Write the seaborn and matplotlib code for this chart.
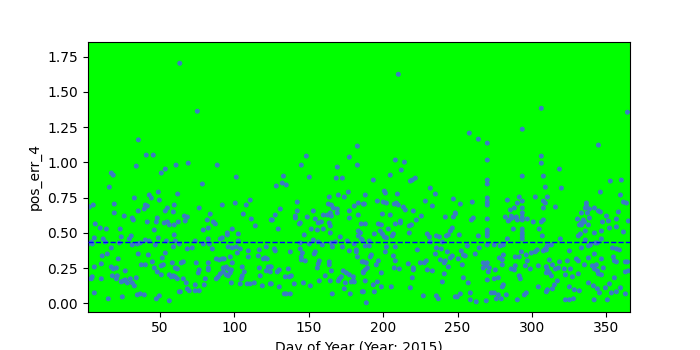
import matplotlib
matplotlib.use("Agg")
import matplotlib.pyplot as plt
import seaborn as sns
import pandas as pd

# Day of year for each sample
day_of_year = [
    1.5, 1.5, 1.5, 1.5,
    63.3, 35.5, 40.8, 45.5, 34.1, 60.8, 17.3, 18.6, 50.9, 53.6, 16.0, 48.9, 42.8, 44.2, 61.9, 32.8,
    49.6, 19.3, 5.2, 2.5, 40.2, 41.5, 59.6, 39.5, 35.4, 55.0, 53.6, 59.0, 19.3, 26.0, 31.4, 32.1,
    48.2, 47.6, 41.5, 52.9, 55.0, 56.3, 59.6, 62.3, 6.5, 9.9, 14.0, 23.3, 46.2, 59.6, 30.7, 29.4,
    5.9, 11.9, 24.0, 40.2, 42.8, 48.9, 54.3, 3.9, 4.5, 13.3, 22.7, 31.4, 34.8, 36.8, 60.3, 59.0,
    17.3, 46.9, 35.4, 42.2, 14.6, 11.2, 53.6, 22.0, 51.6, 5.9, 10.6, 17.3, 18.6, 20.7, 37.5, 40.2,
    44.9, 46.2, 50.9, 52.3, 58.3, 60.3, 61.7, 26.7, 48.2, 18.0, 21.3, 20.7, 4.5, 3.9, 10.6, 30.1,
    34.1, 24.0, 25.4, 26.7, 28.1, 31.4, 32.8, 50.9, 56.3, 57.6, 59.0, 60.3, 61.7, 5.9, 15.3, 24.7,
    34.8, 36.8, 39.5, 47.6, 49.6, 56.3, 63.0,
    75.1, 69.0, 88.5, 101.3, 78.5, 76.4, 91.9, 100.6, 108.0, 110.7, 83.8, 106.0, 66.4, 68.4, 67.0,
    81.8, 85.9, 87.2, 111.4, 114.1, 124.8, 82.5, 79.1, 98.6, 95.3, 95.3, 102.7, 91.9, 73.7, 82.5,
    90.6, 102.7, 63.0, 79.1, 83.2, 68.4, 71.7, 85.2, 95.9, 98.6, 101.3, 104.0, 102.0, 109.4, 116.8,
    121.5, 109.4, 116.1, 119.5, 120.8, 122.1, 97.3, 87.9, 89.9, 91.9, 93.2, 98.6, 74.4, 82.5, 65.7,
    64.3, 82.5, 82.5, 92.6, 94.6, 95.9, 98.0, 105.3, 106.7, 116.8, 121.5, 122.8, 124.2, 76.4, 75.8,
    92.6, 90.6, 94.6, 95.9, 97.3, 105.3, 104.7, 117.4, 65.7, 80.5, 87.9, 89.2, 67.7, 98.0, 104.0,
    108.7, 110.7, 113.4, 79.8, 73.7, 118.8, 124.2, 68.4, 69.7, 73.7, 76.4, 63.7,
    182.7, 148.4, 177.3, 145.0, 182.7, 169.2, 133.0, 150.4, 168.5, 172.6, 128.2, 132.2, 134.9,
    176.6, 163.8, 169.9, 173.9, 142.3, 163.2, 165.2, 183.3, 180.6, 186.7, 130.9, 127.5, 125.5,
    166.5, 169.2, 169.2, 177.3, 142.3, 141.0, 141.0, 153.1, 149.0, 159.8, 162.5, 164.5, 165.2,
    177.3, 183.3, 154.4, 156.4, 158.5, 144.3, 143.7, 163.8, 164.5, 185.3, 129.5, 151.7, 155.8,
    159.8, 164.5, 183.3, 184.7, 147.0, 183.3, 153.1, 156.4, 144.3, 150.4, 159.1, 165.2, 167.9,
    171.2, 175.9, 180.6, 185.3, 165.9, 172.6, 126.9, 127.5, 137.6, 144.3, 145.7, 153.7, 154.4,
    177.3, 182.0, 182.0, 182.7, 145.0, 145.0, 147.7, 157.1, 156.4, 163.8, 163.8, 186.0, 155.8,
    124.8, 124.2, 128.9, 130.2, 136.3, 165.2, 173.2, 175.3, 177.3, 180.0, 186.7, 134.3, 137.0,
    138.3, 161.1, 171.9, 170.6, 169.9, 164.5, 157.1, 180.0, 124.8, 140.3, 146.4, 151.1, 130.2,
    174.6, 178.6, 180.6, 173.9, 186.0, 133.6, 134.9, 137.6, 165.8, 177.9,
    210.2, 208.2, 214.3, 212.2, 204.8, 221.6, 219.6, 218.3, 193.4, 200.8, 201.5, 231.7, 188.0,
    209.6, 235.1, 247.2, 196.1, 200.1, 202.2, 207.5, 208.9, 210.2, 228.4, 187.4, 213.6, 214.9,
    233.1, 220.3, 199.5, 204.8, 225.7, 241.8, 247.2, 248.5, 222.3, 211.6, 211.6, 208.2, 196.8,
    198.8, 188.0, 219.0, 217.6, 246.5, 245.2, 203.5, 198.1, 194.1, 206.9, 199.5, 200.8, 202.2,
    206.2, 217.6, 229.7, 231.1, 235.8, 237.8, 243.8, 242.5, 190.7, 186.0, 231.7, 239.8, 188.0,
    190.7, 202.2, 208.2, 235.8, 239.1, 201.5, 223.0, 243.2, 235.1, 192.1, 191.4, 206.9, 246.5,
    245.2, 196.8, 208.2, 238.5, 241.8, 186.7, 188.7, 195.4, 216.9, 220.3, 220.3, 225.0, 227.7,
    229.0, 229.7, 233.1, 241.1, 243.8, 189.4, 188.0, 207.5, 210.9, 186.7, 198.8, 241.1, 219.6,
    188.0, 196.1, 239.8, 193.4, 198.8, 205.5, 218.3, 194.1, 186.7, 227.0, 235.8, 237.1, 248.5,
    188.7,
    306.3, 293.5, 257.9, 264.0, 270.0, 270.0, 306.3, 306.3, 293.5, 307.7, 270.0, 270.0, 309.0,
    270.0, 270.0, 270.0, 270.0, 270.0, 270.0, 270.0, 270.0, 251.9, 259.9, 248.5, 260.6, 259.3,
    251.2, 264.0, 283.5, 291.5, 293.5, 290.2, 302.3, 307.7, 309.0, 307.7, 288.2, 285.5, 293.5,
    293.5, 293.5, 293.5, 293.5, 293.5, 293.5, 293.5, 286.1, 286.8, 289.5, 290.2, 282.1, 284.1,
    284.8, 296.9, 300.9, 306.3, 307.7, 287.5, 304.9, 307.0, 283.5, 256.6, 252.5, 253.9, 255.2,
    261.9, 264.6, 250.5, 253.2, 274.7, 278.7, 280.8, 280.8, 278.1, 280.1, 288.8, 291.5, 292.9,
    296.2, 299.6, 302.3, 303.6, 307.7, 309.0, 296.9, 267.3, 270.0, 269.3, 267.3, 271.4, 270.7,
    275.4, 280.1, 286.1, 288.2, 288.8, 295.6, 298.9, 304.3, 309.7, 309.7, 291.5, 292.2, 253.9,
    257.2, 270.0, 274.7, 277.4, 280.8, 280.1, 304.3, 249.8, 251.9, 258.6, 258.6, 262.6, 269.3,
    272.7, 274.7, 276.1, 277.4, 279.4, 282.8, 290.2, 294.9, 296.2, 309.7,
    364.2, 344.7, 318.5, 319.8, 352.7, 360.1, 346.0, 359.5, 310.4, 361.5, 363.5, 315.8, 336.6,
    336.6, 335.9, 338.6, 342.0, 344.7, 346.0, 333.3, 337.3, 358.1, 350.1, 330.6, 334.6, 338.6,
    333.3, 335.3, 347.4, 351.4, 356.8, 364.8, 331.9, 333.3, 338.0, 352.1, 356.8, 346.7, 335.9,
    342.0, 361.5, 332.6, 331.2, 319.1, 335.9, 346.7, 342.7, 344.0, 338.0, 339.3, 310.4, 313.1,
    354.1, 356.8, 358.8, 309.7, 325.2, 333.3, 342.0, 318.5, 323.8, 311.7, 329.9, 331.2, 338.0,
    346.7, 354.8, 355.4, 356.8, 362.8, 364.2, 309.7, 310.4, 313.8, 315.8, 317.8, 321.8, 325.9,
    322.5, 327.2, 331.2, 335.3, 340.6, 342.0, 343.3, 344.0, 344.7, 346.7, 348.0, 362.8, 364.8,
    355.4, 311.7, 313.1, 317.1, 315.1, 310.4, 313.8, 325.2, 328.5, 331.9, 338.0, 341.3, 344.0,
    345.4, 349.4, 352.1, 353.4, 356.8, 359.5, 362.8, 322.5, 325.2, 327.9, 341.8, 350.7,
]

# pos_err_4 values, same order as day_of_year
pos_err_4 = [
    0.689, 0.430, 0.420, 0.175,
    1.703, 1.160, 1.052, 1.052, 0.974, 0.981, 0.925, 0.910, 0.925, 0.953, 0.825, 0.790, 0.769, 0.748, 0.776, 0.748,
    0.733, 0.705, 0.698, 0.684, 0.698, 0.691, 0.698, 0.670, 0.656, 0.677, 0.656, 0.649, 0.642, 0.620, 0.606, 0.592,
    0.606, 0.578, 0.578, 0.571, 0.578, 0.557, 0.557, 0.578, 0.564, 0.535, 0.528, 0.528, 0.521, 0.486, 0.479, 0.458,
    0.465, 0.458, 0.472, 0.450, 0.443, 0.465, 0.443, 0.436, 0.422, 0.436, 0.429, 0.415, 0.422, 0.429, 0.443, 0.401,
    0.394, 0.415, 0.351, 0.344, 0.351, 0.337, 0.358, 0.316, 0.323, 0.259, 0.281, 0.259, 0.245, 0.252, 0.274, 0.274,
    0.295, 0.252, 0.267, 0.274, 0.288, 0.252, 0.245, 0.231, 0.224, 0.196, 0.196, 0.175, 0.189, 0.175, 0.175, 0.175,
    0.182, 0.153, 0.160, 0.167, 0.146, 0.146, 0.125, 0.203, 0.203, 0.189, 0.196, 0.189, 0.175, 0.075, 0.033, 0.047,
    0.061, 0.068, 0.061, 0.033, 0.054, 0.019, 0.083,
    1.363, 0.995, 0.981, 0.896, 0.847, 0.677, 0.698, 0.712, 0.698, 0.733, 0.634, 0.634, 0.620, 0.613, 0.585,
    0.592, 0.578, 0.564, 0.599, 0.550, 0.592, 0.535, 0.521, 0.528, 0.500, 0.486, 0.493, 0.465, 0.443, 0.458,
    0.458, 0.443, 0.422, 0.422, 0.422, 0.387, 0.394, 0.387, 0.401, 0.394, 0.401, 0.387, 0.358, 0.373, 0.380,
    0.401, 0.330, 0.337, 0.316, 0.323, 0.316, 0.330, 0.316, 0.309, 0.316, 0.316, 0.288, 0.288, 0.288, 0.295,
    0.288, 0.252, 0.238, 0.252, 0.259, 0.245, 0.238, 0.259, 0.224, 0.252, 0.231, 0.259, 0.259, 0.238, 0.217,
    0.224, 0.210, 0.203, 0.196, 0.217, 0.196, 0.175, 0.196, 0.175, 0.175, 0.175, 0.189, 0.146, 0.146, 0.139,
    0.139, 0.139, 0.146, 0.132, 0.132, 0.125, 0.139, 0.104, 0.090, 0.090, 0.090, 0.083,
    1.116, 1.045, 1.038, 0.981, 0.981, 0.967, 0.903, 0.896, 0.889, 0.889, 0.833, 0.854, 0.840,
    0.790, 0.755, 0.769, 0.755, 0.719, 0.705, 0.698, 0.712, 0.691, 0.705, 0.670, 0.627, 0.592,
    0.677, 0.670, 0.642, 0.656, 0.656, 0.620, 0.606, 0.656, 0.613, 0.627, 0.627, 0.642, 0.620,
    0.606, 0.627, 0.599, 0.571, 0.578, 0.571, 0.564, 0.571, 0.550, 0.564, 0.528, 0.528, 0.521,
    0.528, 0.500, 0.514, 0.500, 0.486, 0.479, 0.450, 0.436, 0.429, 0.422, 0.415, 0.429, 0.436,
    0.472, 0.443, 0.422, 0.458, 0.401, 0.401, 0.387, 0.373, 0.366, 0.387, 0.358, 0.351, 0.366,
    0.373, 0.380, 0.366, 0.330, 0.330, 0.309, 0.302, 0.302, 0.281, 0.295, 0.274, 0.295, 0.252,
    0.259, 0.224, 0.224, 0.238, 0.245, 0.231, 0.231, 0.217, 0.203, 0.189, 0.224, 0.189, 0.189,
    0.196, 0.196, 0.189, 0.175, 0.160, 0.160, 0.160, 0.160, 0.139, 0.139, 0.146, 0.125, 0.118,
    0.146, 0.153, 0.153, 0.104, 0.083, 0.068, 0.068, 0.068, 0.068, 0.068,
    1.625, 1.017, 1.002, 0.946, 0.910, 0.889, 0.875, 0.868, 0.875, 0.797, 0.783, 0.818, 0.769,
    0.776, 0.776, 0.741, 0.726, 0.719, 0.712, 0.705, 0.712, 0.698, 0.726, 0.705, 0.684, 0.663,
    0.691, 0.656, 0.634, 0.627, 0.620, 0.613, 0.613, 0.634, 0.592, 0.585, 0.571, 0.564, 0.564,
    0.557, 0.564, 0.557, 0.550, 0.535, 0.514, 0.528, 0.514, 0.493, 0.493, 0.493, 0.472, 0.465,
    0.479, 0.500, 0.493, 0.472, 0.479, 0.472, 0.486, 0.479, 0.443, 0.450, 0.436, 0.436, 0.408,
    0.408, 0.401, 0.401, 0.394, 0.387, 0.366, 0.380, 0.366, 0.351, 0.344, 0.330, 0.337, 0.337,
    0.323, 0.302, 0.302, 0.309, 0.302, 0.295, 0.288, 0.274, 0.281, 0.252, 0.238, 0.288, 0.288,
    0.302, 0.238, 0.231, 0.288, 0.259, 0.252, 0.238, 0.252, 0.245, 0.217, 0.217, 0.210, 0.182,
    0.160, 0.153, 0.153, 0.132, 0.118, 0.118, 0.111, 0.083, 0.083, 0.054, 0.054, 0.033, 0.047,
    0.005,
    1.384, 1.236, 1.208, 1.165, 1.137, 1.017, 1.045, 0.995, 0.903, 0.903, 0.875, 0.847, 0.825,
    0.748, 0.719, 0.698, 0.599, 0.521, 0.500, 0.479, 0.415, 0.705, 0.719, 0.642, 0.606, 0.592,
    0.486, 0.479, 0.733, 0.755, 0.726, 0.712, 0.755, 0.726, 0.712, 0.677, 0.677, 0.663, 0.677,
    0.642, 0.613, 0.592, 0.528, 0.500, 0.479, 0.458, 0.620, 0.606, 0.613, 0.592, 0.613, 0.585,
    0.592, 0.599, 0.578, 0.578, 0.592, 0.528, 0.528, 0.479, 0.458, 0.408, 0.373, 0.344, 0.337,
    0.351, 0.394, 0.316, 0.274, 0.415, 0.408, 0.415, 0.344, 0.323, 0.309, 0.330, 0.330, 0.366,
    0.344, 0.358, 0.366, 0.380, 0.373, 0.387, 0.302, 0.288, 0.288, 0.267, 0.252, 0.252, 0.224,
    0.238, 0.274, 0.245, 0.238, 0.267, 0.267, 0.245, 0.267, 0.259, 0.217, 0.196, 0.175, 0.182,
    0.146, 0.167, 0.175, 0.182, 0.132, 0.118, 0.118, 0.047, 0.068, 0.075, 0.026, 0.012, 0.019,
    0.075, 0.075, 0.033, 0.061, 0.033, 0.061, 0.026, 0.061, 0.075, 0.083,
    1.356, 1.123, 0.953, 0.818, 0.868, 0.875, 0.790, 0.769, 0.755, 0.719, 0.712, 0.684, 0.712,
    0.691, 0.677, 0.670, 0.677, 0.656, 0.649, 0.642, 0.642, 0.649, 0.620, 0.599, 0.592, 0.606,
    0.571, 0.578, 0.578, 0.585, 0.599, 0.585, 0.557, 0.557, 0.557, 0.535, 0.543, 0.514, 0.514,
    0.500, 0.507, 0.493, 0.479, 0.458, 0.450, 0.458, 0.429, 0.429, 0.408, 0.415, 0.408, 0.415,
    0.394, 0.387, 0.380, 0.380, 0.373, 0.394, 0.351, 0.295, 0.302, 0.309, 0.316, 0.302, 0.323,
    0.316, 0.330, 0.302, 0.295, 0.295, 0.295, 0.259, 0.238, 0.274, 0.245, 0.252, 0.245, 0.245,
    0.203, 0.189, 0.210, 0.274, 0.267, 0.245, 0.274, 0.231, 0.210, 0.203, 0.252, 0.224, 0.231,
    0.182, 0.217, 0.196, 0.160, 0.132, 0.097, 0.104, 0.118, 0.097, 0.090, 0.146, 0.125, 0.104,
    0.075, 0.111, 0.139, 0.075, 0.083, 0.111, 0.068, 0.026, 0.026, 0.033, 0.026, 0.026,
]

mean_pos_err = 0.435
x_label = "Day of Year (Year: 2015)"
y_label = "pos_err_4"

n = min(len(day_of_year), len(pos_err_4))
df = pd.DataFrame({"day": day_of_year[:n], "pos_err_4": pos_err_4[:n]})

fig, ax = plt.subplots(figsize=(7, 3.5), dpi=100)
ax.set_facecolor("#00ff00")
sns.scatterplot(data=df, x="day", y="pos_err_4", ax=ax, s=13, color="#3a7cc4",
                linewidth=0, edgecolor="none", zorder=2)
ax.axhline(mean_pos_err, color="blue", linestyle="--", linewidth=1, zorder=3)
ax.set_xlim(1.3, 365.9)
ax.set_ylim(-0.057, 1.854)
ax.set_xlabel(x_label)
ax.set_ylabel(y_label)
fig.savefig("out.png", dpi=100)
